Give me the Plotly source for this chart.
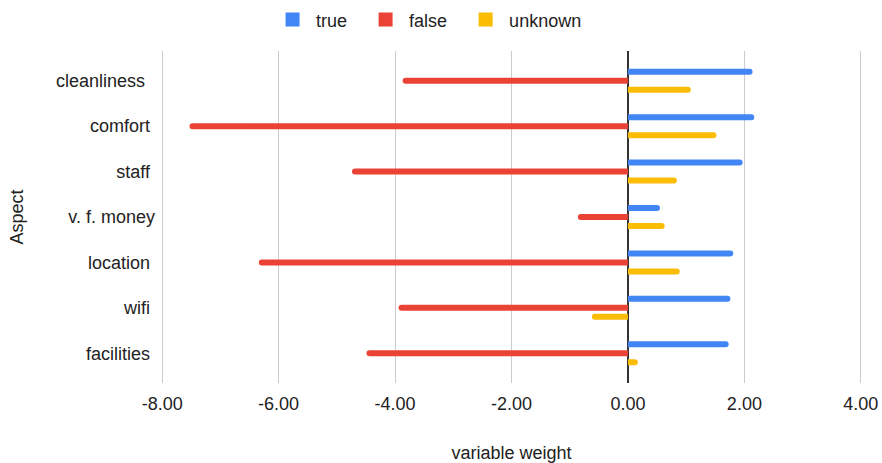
import plotly.graph_objects as go

categories = ["cleanliness\u00a0\u00a0", "comfort\u00a0", "staff\u00a0", "v. f. money", "location\u00a0", "wifi\u00a0", "facilities\u00a0"]
true_vals = [2.14, 2.17, 1.97, 0.55, 1.81, 1.76, 1.73]
false_vals = [-3.87, -7.53, -4.74, -0.86, -6.34, -3.94, -4.49]
unknown_vals = [1.08, 1.52, 0.84, 0.63, 0.89, -0.62, 0.17]
series_names = ["true", "false", "unknown"]
series_colors = ["#4285F4", "#EA4335", "#FBBC04"]
x_ticks = [-8, -6, -4, -2, 0, 2, 4]
x_tick_labels = ["-8.00", "-6.00", "-4.00", "-2.00", "0.00", "2.00", "4.00"]

font_family = "Liberation Sans, Arial, sans-serif"
FS = 18

fig = go.Figure()
for name, vals, color in zip(series_names, [true_vals, false_vals, unknown_vals], series_colors):
    fig.add_trace(go.Bar(y=categories, x=vals, name=name, orientation="h",
                         showlegend=False,
                         marker=dict(color=color, line=dict(width=0))))
# legend entries with square swatches
for name, color in zip(series_names, series_colors):
    fig.add_trace(go.Scatter(x=[None], y=[None], mode="markers",
                             name=name + "\u00a0\u00a0",
                             marker=dict(symbol="square", size=14, color=color)))

fig.update_layout(
    width=882, height=463,
    margin=dict(l=161, r=20, t=51, b=80),
    paper_bgcolor="white", plot_bgcolor="white",
    barmode="group", bargap=0.405, bargroupgap=0.333,
    barcornerradius=3,
    font=dict(family=font_family, size=FS, color="#222222"),
    legend=dict(orientation="h", xref="container", yref="container",
                x=0.491, xanchor="center", y=0.957, yanchor="middle",
                itemwidth=37,
                font=dict(size=FS, color="#222222"), itemclick=False),
    xaxis=dict(range=[-8.02, 4.02], tickvals=x_ticks, ticktext=x_tick_labels,
               showgrid=True, gridcolor="#cccccc", gridwidth=1,
               zeroline=True, zerolinecolor="#333333", zerolinewidth=2,
               showline=False, ticks="", automargin=False,
               ticklabelstandoff=8,
               title=dict(text="variable weight", font=dict(size=FS), standoff=34),
               tickfont=dict(size=FS)),
    yaxis=dict(categoryorder="array", categoryarray=categories,
               range=[6.655, -0.655], showgrid=False, ticks="",
               automargin=False, ticklabelstandoff=5,
               title=dict(text="Aspect", font=dict(size=FS), standoff=27),
               tickfont=dict(size=FS)),
)

fig.write_html("out.html")
